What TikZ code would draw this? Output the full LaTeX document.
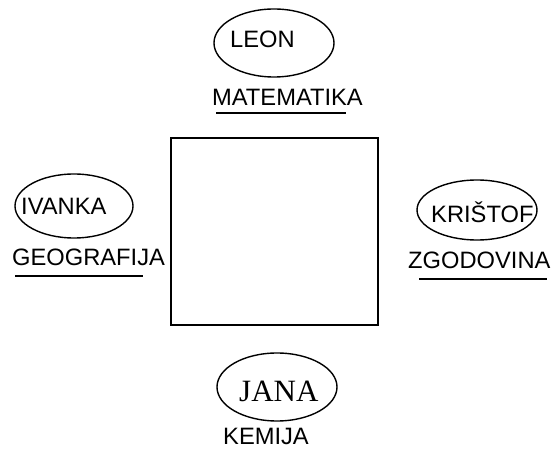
\documentclass[tikz,border=0pt]{standalone}
\usepackage{fontspec}
\setmainfont{Liberation Sans}
\newfontfamily\timesfont{Liberation Serif}
\usetikzlibrary{shapes.geometric}
\begin{document}
\begin{tikzpicture}[x=1pt,y=-1pt,
  oval/.style={draw, ellipse, line width=1.4pt, inner sep=0pt},
  lbl/.style={anchor=base west, inner sep=0pt, font=\fontsize{23.7}{28}\selectfont},
  uline/.style={line width=2pt},
  box/.style={draw, line width=2pt, inner sep=0pt}]
\useasboundingbox (0,0) rectangle (555,454);
% square
\node[box, minimum width=207pt, minimum height=187pt] (sq) at (274.5,231.5) {};
% ellipses
\node[oval, minimum width=120pt, minimum height=68pt] (e1) at (274,43) {};
\node[oval, minimum width=118pt, minimum height=64pt] (e2) at (74,206) {};
\node[oval, minimum width=120pt, minimum height=60pt] (e3) at (477,210) {};
\node[oval, minimum width=120pt, minimum height=68pt] (e4) at (277,387) {};
% names
\node[lbl] (leon) at (230,48) {LEON};
\node[lbl] (ivanka) at (21,215) {IVANKA};
\node[lbl] (kristof) at (431,223) {KRIŠTOF};
\node[lbl, font=\timesfont\fontsize{31}{36}\selectfont] (jana) at (239,402) {JANA};
% subjects
\node[lbl] (mat) at (212,106) {MATEMATIKA};
\node[lbl] (geo) at (12,266) {GEOGRAFIJA};
\node[lbl] (zgo) at (408,269) {ZGODOVINA};
\node[lbl] (kem) at (223,445) {KEMIJA};
% underlines
\coordinate (u1a) at (216,113); \coordinate (u1b) at (346,113);
\coordinate (u2a) at (15,276); \coordinate (u2b) at (143,276);
\coordinate (u3a) at (419,279); \coordinate (u3b) at (547,279);
\draw[uline] (u1a) -- (u1b);
\draw[uline] (u2a) -- (u2b);
\draw[uline] (u3a) -- (u3b);
\end{tikzpicture}
\end{document}
